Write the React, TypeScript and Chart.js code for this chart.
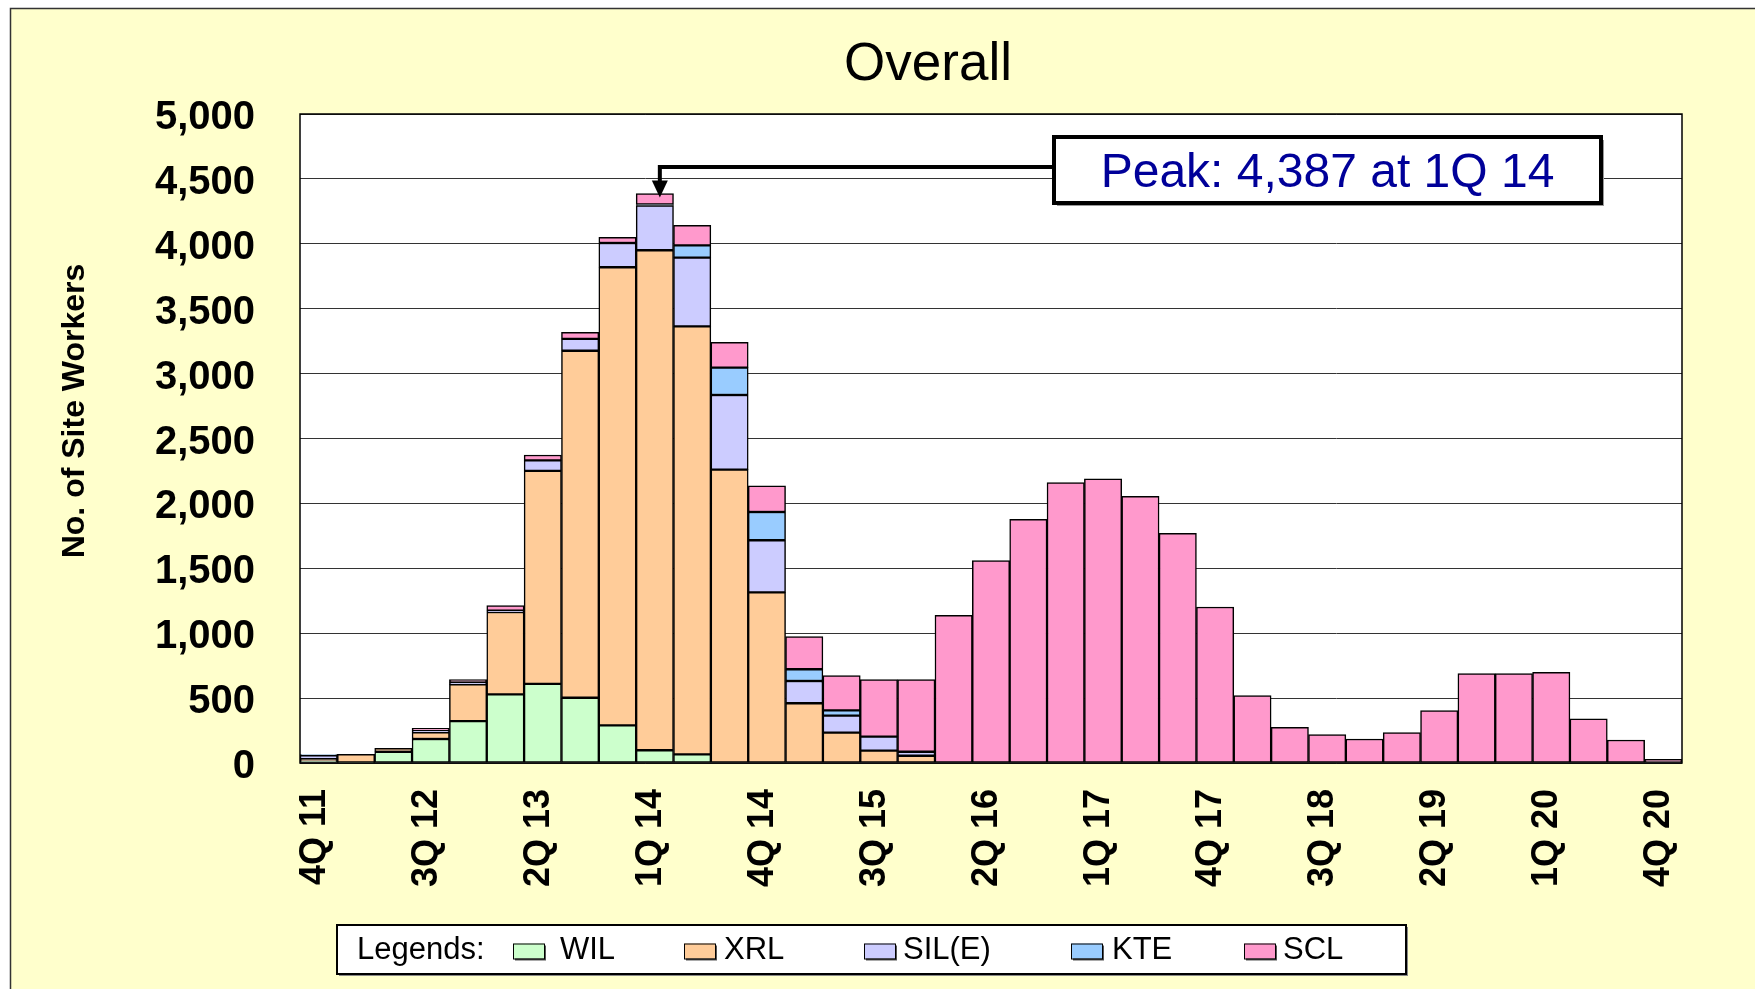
import React, { useEffect, useRef } from "react";
import { Chart, registerables } from "chart.js";

Chart.register(...registerables);

const quarters = [
  "4Q 11", "1Q 12", "2Q 12", "3Q 12", "4Q 12", "1Q 13", "2Q 13", "3Q 13", "4Q 13",
  "1Q 14", "2Q 14", "3Q 14", "4Q 14", "1Q 15", "2Q 15", "3Q 15", "4Q 15",
  "1Q 16", "2Q 16", "3Q 16", "4Q 16", "1Q 17", "2Q 17", "3Q 17", "4Q 17",
  "1Q 18", "2Q 18", "3Q 18", "4Q 18", "1Q 19", "2Q 19", "3Q 19", "4Q 19",
  "1Q 20", "2Q 20", "3Q 20", "4Q 20",
];

const wil = [15, 5, 87, 185, 323, 529, 609, 503, 290, 98, 67, 0, 0, 0, 0, 0, 0,
  0, 0, 0, 0, 0, 0, 0, 0, 0, 0, 0, 0, 0, 0, 0, 0, 0, 0, 0, 0];
const xrl = [15, 62, 26, 52, 283, 634, 1641, 2673, 3529, 3852, 3297, 2260, 1315, 460, 234, 95, 56,
  0, 0, 0, 0, 0, 0, 0, 0, 0, 0, 0, 0, 0, 0, 0, 0, 0, 0, 0, 0];
const silE = [30, 0, 0, 10, 16, 10, 82, 91, 187, 345, 529, 575, 401, 172, 131, 108, 31,
  0, 0, 0, 0, 0, 0, 0, 0, 0, 0, 0, 0, 0, 0, 0, 0, 0, 0, 0, 0];
const kte = [5, 0, 0, 0, 0, 0, 0, 0, 0, 8, 95, 211, 218, 90, 41, 0, 0,
  0, 0, 0, 0, 0, 0, 0, 0, 0, 0, 0, 0, 0, 0, 0, 0, 0, 0, 0, 0];
const scl = [0, 0, 0, 20, 20, 39, 41, 51, 44, 84, 154, 195, 202, 251, 267, 439, 555,
  1138, 1559, 1877, 2160, 2190, 2055, 1770, 1202, 519, 275, 218, 185, 234, 403, 688, 688,
  699, 341, 177, 28];

const seriesNames = ["WIL", "XRL", "SIL(E)", "KTE", "SCL"];
const seriesColors = ["#CCFFCC", "#FFCC99", "#CCCCFF", "#99CCFF", "#FF99CC"];
const seriesValues = [wil, xrl, silE, kte, scl];

const FONT = '"Liberation Sans", Arial, Helvetica, sans-serif';

const decorPlugin = {
  id: "decor",
  beforeDraw(chart: any) {
    const ctx = chart.ctx as CanvasRenderingContext2D;
    const { width, height } = chart;
    const a = chart.chartArea;
    ctx.save();
    ctx.fillStyle = "#ffffff";
    ctx.fillRect(0, 0, width, height);
    ctx.fillStyle = "#FFFFCC";
    ctx.fillRect(10, 8, width, height);
    ctx.strokeStyle = "#333333";
    ctx.lineWidth = 1.5;
    ctx.strokeRect(10.5, 8.5, width + 20, height + 20);
    ctx.fillStyle = "#ffffff";
    ctx.fillRect(a.left, a.top, a.right - a.left, a.bottom - a.top);
    ctx.restore();
  },
  afterDatasetsDraw(chart: any) {
    const ctx = chart.ctx as CanvasRenderingContext2D;
    const a = chart.chartArea;
    ctx.save();
    ctx.strokeStyle = "#000";
    ctx.lineWidth = 1.5;
    ctx.strokeRect(a.left, a.top, a.right - a.left, a.bottom - a.top);
    ctx.restore();
  },
  afterDraw(chart: any) {
    const ctx = chart.ctx as CanvasRenderingContext2D;
    const xs = chart.scales.x;
    const ys = chart.scales.y;
    ctx.save();

    // Title
    ctx.fillStyle = "#000";
    ctx.font = `53px ${FONT}`;
    ctx.textAlign = "center";
    ctx.textBaseline = "middle";
    ctx.fillText("Overall", 928, 65);

    // Y axis title
    ctx.save();
    ctx.translate(75, 411);
    ctx.rotate(-Math.PI / 2);
    ctx.font = `bold 32px ${FONT}`;
    ctx.fillText("No. of Site Workers", 0, 0);
    ctx.restore();

    // Legend box
    const lb = { x: 337, y: 925, w: 1069, h: 49 };
    ctx.fillStyle = "#888";
    ctx.fillRect(lb.x + 2, lb.y + 2, lb.w, lb.h);
    ctx.fillStyle = "#fff";
    ctx.fillRect(lb.x, lb.y, lb.w, lb.h);
    ctx.strokeStyle = "#000";
    ctx.lineWidth = 2;
    ctx.strokeRect(lb.x, lb.y, lb.w, lb.h);
    const cy = lb.y + lb.h / 2 + 1;
    ctx.font = `31px ${FONT}`;
    ctx.textAlign = "left";
    ctx.fillStyle = "#000";
    ctx.fillText("Legends:", 357, cy);
    const swX = [513, 684, 864, 1071, 1244];
    const txX = [560, 724, 903, 1112, 1283];
    chart.data.datasets.forEach((ds: any, i: number) => {
      ctx.fillStyle = "#555";
      ctx.fillRect(swX[i] + 2, cy - 7 + 2, 31, 15);
      ctx.fillStyle = ds.backgroundColor;
      ctx.fillRect(swX[i], cy - 7, 31, 15);
      ctx.strokeStyle = "#000";
      ctx.lineWidth = 1;
      ctx.strokeRect(swX[i] + 0.5, cy - 7 + 0.5, 31, 15);
      ctx.fillStyle = "#000";
      ctx.fillText(ds.label, txX[i], cy);
    });

    // Peak annotation
    const totals = quarters.map((_, i) => seriesValues.reduce((s, arr) => s + arr[i], 0));
    const peak = Math.max(...totals);
    const pi = totals.indexOf(peak);
    const px = xs.getPixelForValue(pi) + 5;
    const py = ys.getPixelForValue(peak);
    const box = { x: 1054, y: 137, w: 547, h: 66 };
    const lineY = 167;
    ctx.strokeStyle = "#000";
    ctx.lineWidth = 4;
    ctx.beginPath();
    ctx.moveTo(box.x, lineY);
    ctx.lineTo(px, lineY);
    ctx.lineTo(px, py - 12);
    ctx.stroke();
    ctx.fillStyle = "#000";
    ctx.beginPath();
    ctx.moveTo(px - 8, py - 13);
    ctx.lineTo(px + 8, py - 13);
    ctx.lineTo(px, py + 4);
    ctx.closePath();
    ctx.fill();

    ctx.fillStyle = "#999";
    ctx.fillRect(box.x + 3, box.y + 3, box.w, box.h);
    ctx.fillStyle = "#fff";
    ctx.fillRect(box.x, box.y, box.w, box.h);
    ctx.lineWidth = 4;
    ctx.strokeStyle = "#000";
    ctx.strokeRect(box.x, box.y, box.w, box.h);
    ctx.fillStyle = "#000099";
    ctx.font = `48px ${FONT}`;
    ctx.textAlign = "center";
    ctx.fillText(
      `Peak: ${peak.toLocaleString("en-US")} at ${quarters[pi]}`,
      box.x + box.w / 2,
      box.y + box.h / 2 + 4
    );
    ctx.restore();
  },
};

export default function App() {
  const ref = useRef<HTMLCanvasElement>(null);
  useEffect(() => {
    const chart = new Chart(ref.current as HTMLCanvasElement, {
      type: "bar",
      data: {
        labels: quarters,
        datasets: seriesNames.map((name, i) => ({
          label: name,
          data: seriesValues[i],
          backgroundColor: seriesColors[i],
          borderColor: "#000",
          borderWidth: 1.5,
          borderSkipped: false,
          barPercentage: 1,
          categoryPercentage: 1,
        })),
      },
      options: {
        responsive: false,
        devicePixelRatio: 1,
        animation: false,
        layout: { padding: { left: 0, top: 114, right: 73, bottom: 0 } },
        plugins: {
          legend: { display: false },
          tooltip: { enabled: false },
          title: { display: false },
        },
        scales: {
          x: {
            stacked: true,
            grid: { display: false, drawTicks: false },
            border: { display: false },
            ticks: {
              autoSkip: false,
              maxRotation: 90,
              minRotation: 90,
              padding: 26,
              labelOffset: -4,
              color: "#000",
              font: { family: FONT, size: 36, weight: "bold" },
              callback: (_v: any, i: number) => (i % 3 === 0 ? quarters[i] : ""),
            },
            afterFit: (s: any) => {
              s.height = 226;
            },
          },
          y: {
            stacked: true,
            min: 0,
            max: 5000,
            grid: { color: "#333", lineWidth: 1, drawTicks: false },
            border: { display: false },
            ticks: {
              stepSize: 500,
              padding: 45,
              labelOffset: 4,
              color: "#000",
              font: { family: FONT, size: 40, weight: "bold" },
              callback: (v: any) => Number(v).toLocaleString("en-US"),
            },
            afterFit: (s: any) => {
              s.width = 300;
            },
          },
        },
      },
      plugins: [decorPlugin],
    } as any);
    return () => chart.destroy();
  }, []);
  return (
    <div style={{ position: "fixed", left: 0, top: 0, width: 1755, height: 989 }}>
      <canvas ref={ref} width={1755} height={989} style={{ width: 1755, height: 989, display: "block" }} />
    </div>
  );
}
